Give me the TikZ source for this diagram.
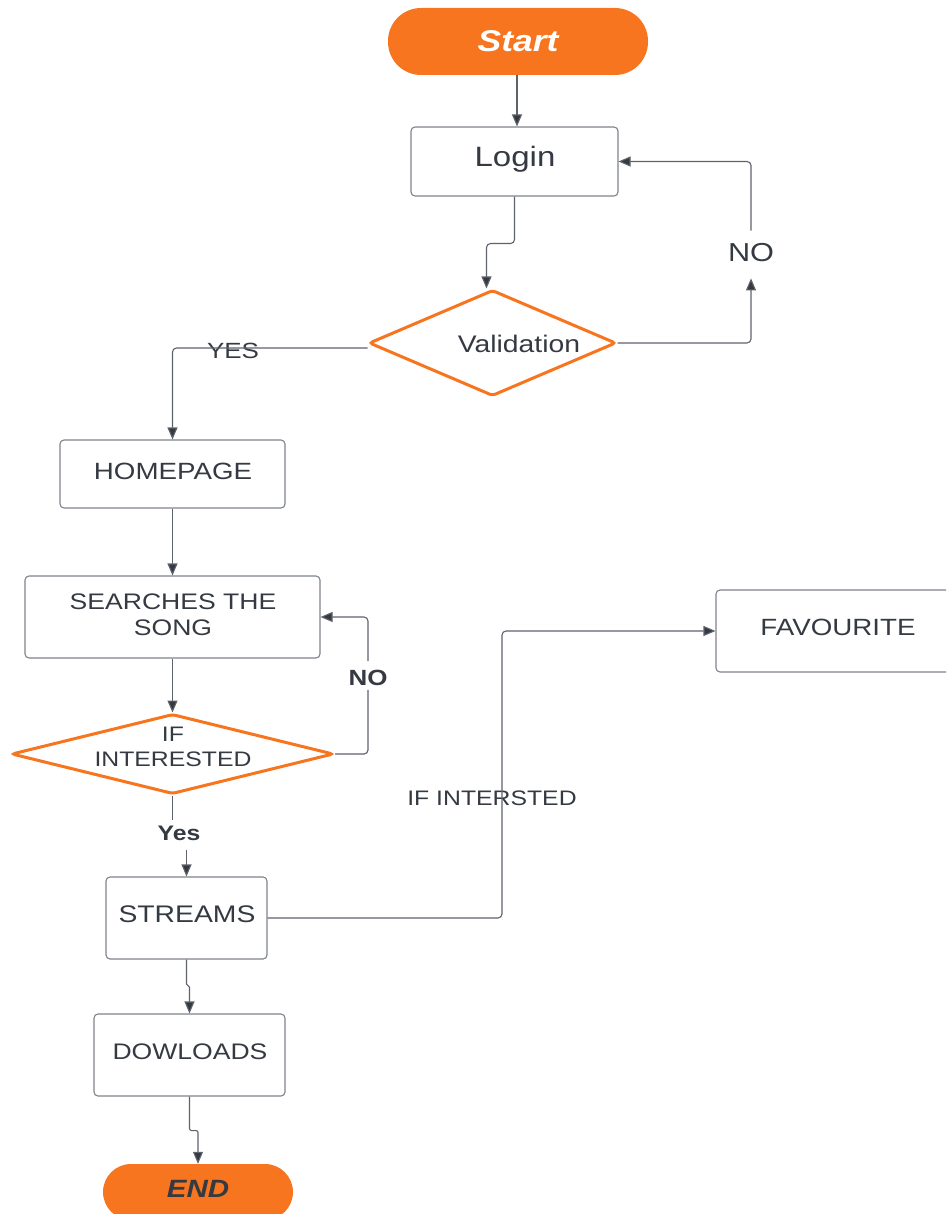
\documentclass[tikz,border=0pt]{standalone}
\usepackage{fontspec}
\setmainfont{Liberation Sans}[FakeStretch=1.18]
\usetikzlibrary{arrows.meta,shapes.geometric}
\definecolor{orng}{HTML}{F7751F}
\definecolor{ink}{HTML}{353A42}
\definecolor{wire}{HTML}{5E636B}
\definecolor{edge}{HTML}{7E838A}
\tikzset{
  box/.style={draw=edge,line width=1.1pt,rounded corners=4pt,inner sep=0pt,text=ink},
  term/.style={fill=orng,draw=none,inner sep=0pt},
  decide/.style={draw=orng,line width=3pt,shape=diamond,aspect=2.3,inner sep=0pt,rounded corners=3pt},
  txt/.style={text=ink,inner sep=0pt,align=center},
  arr/.style={draw=wire,line width=1.1pt,rounded corners=4pt,-{Triangle[length=12pt,width=10pt,fill=ink]}},
  ln/.style={draw=wire,line width=1.1pt,rounded corners=4pt},
}
\begin{document}
\begin{tikzpicture}[x=1pt,y=-1pt]
\useasboundingbox (0,0) rectangle (946,1214);
\clip (0,0) rectangle (946,1214);
% terminals
\node[term,minimum width=260pt,minimum height=67pt,rounded corners=33pt] (start) at (518,41.5)
  {\color{white}\fontsize{30}{34}\selectfont\bfseries\itshape Start};
\node[term,minimum width=190pt,minimum height=56pt,rounded corners=28pt] (end) at (198,1192)
  {};
\node[txt,font=\fontsize{25}{30}\selectfont\bfseries\itshape] (endt) at (198,1189) {END};
% boxes
\node[box,minimum width=207pt,minimum height=69pt] (login) at (514.5,161.5) {};
\node[txt,font=\fontsize{28}{32}\selectfont] (logint) at (515,159) {Login};
\node[box,minimum width=225pt,minimum height=68pt] (home) at (172.5,474) {};
\node[txt,font=\fontsize{23.5}{28}\selectfont] (homet) at (173,471) {HOMEPAGE};
\node[box,minimum width=295pt,minimum height=82pt] (search) at (172.5,617) {};
\node[txt,font=\fontsize{22.5}{26}\selectfont] (searcht) at (173,615) {SEARCHES THE\\SONG};
\node[box,minimum width=161pt,minimum height=82pt] (streams) at (186.5,918) {};
\node[txt,font=\fontsize{24}{28}\selectfont] (streamst) at (187,914) {STREAMS};
\node[box,minimum width=191pt,minimum height=82pt] (dow) at (189.5,1055) {};
\node[txt,font=\fontsize{22.5}{26}\selectfont] (dowt) at (190,1052) {DOWLOADS};
\node[box,minimum width=244pt,minimum height=82pt] (fav) at (838,631) {};
\node[txt,font=\fontsize{23.5}{28}\selectfont] (favt) at (838,627) {FAVOURITE};
% decisions
\node[decide,minimum width=247pt,minimum height=106pt] (val) at (492.5,343) {};
\node[txt,font=\fontsize{24}{28}\selectfont] (valt) at (519,344) {Validation};
\node[decide,minimum width=322pt,minimum height=80pt] (int) at (172.5,754) {};
\node[txt,font=\fontsize{21}{25}\selectfont] (intt) at (173,747) {IF\\INTERESTED};
% labels
\node[txt,font=\fontsize{26}{30}\selectfont] (noR) at (751,253) {NO};
\node[txt,font=\fontsize{22}{26}\selectfont] (yesL) at (233,351) {YES};
\node[txt,font=\fontsize{22}{26}\selectfont\bfseries] (noB) at (368,678) {NO};
\node[txt,font=\fontsize{21}{25}\selectfont\bfseries] (yesB) at (179,833) {Yes};
\node[txt,font=\fontsize{21}{25}\selectfont] (ifl) at (492,798) {IF INTERSTED};
\coordinate (sf) at (502,918);
% connectors
\draw[arr] (start.south -| 517,0) -- (login.north -| 517,0);
\draw[arr] (login.south) -- ++(0,47) -| ([xshift=-6pt]val.north);
\draw[arr] (val.east) -| ([yshift=-16pt]noR.south);
\draw[arr] ([yshift=13pt]noR.north) |- (login.east);
\draw[arr] ([yshift=-5pt]val.west) -| (home.north);
\draw[arr] (home.south) -- (search.north);
\draw[arr] (search.south) -- (int.north);
\draw[ln] (int.east) -| ([yshift=-4pt]noB.south);
\draw[arr] ([yshift=9pt]noB.north) |- (search.east);
\draw[ln] (int.south) -- ([yshift=5pt]int.south |- yesB.north);
\draw[arr] ([yshift=-9pt]streams.north |- yesB.south) -- (streams.north);
\draw[arr] (streams.east) -- (sf) |- (fav.west);
\draw[arr,rounded corners=1.5pt] (streams.south) -- ++(0,26) -| (dow.north);
\draw[arr,rounded corners=2pt] (dow.south) -- ++(0,34) -| (end.north);
\end{tikzpicture}
\end{document}
